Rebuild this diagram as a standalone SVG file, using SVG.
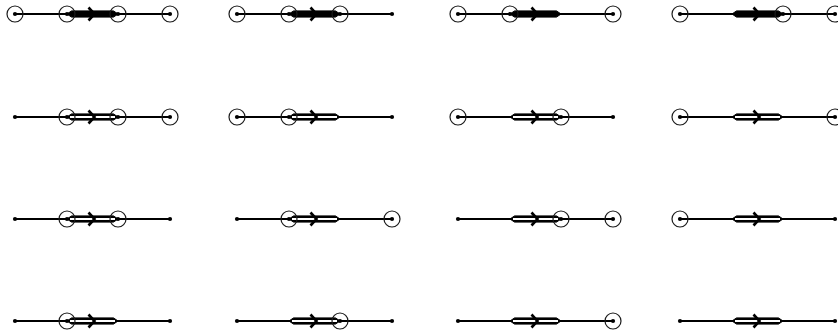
<svg xmlns="http://www.w3.org/2000/svg" xmlns:xlink="http://www.w3.org/1999/xlink" width="838" height="334" viewBox="0 0 838 334">
<style>
.ln{stroke:#000;stroke-width:2.2;fill:none}
.bar{fill:#000;stroke:#000;stroke-width:1}
.inner{stroke:#fff;stroke-width:2.2;fill:none}
.arr{stroke:#000;stroke-width:2.6;fill:none;stroke-linejoin:miter}
.ring{stroke:#1a1a1a;stroke-width:1.2;fill:none}
.dot{fill:#000}
</style>
<defs>
<g id="base">
<line class="ln" x1="15" y1="0" x2="170" y2="0"/>
<path class="bar" d="M67,0 L71.5,-3.1 L113.5,-3.1 L118,0 L113.5,3.1 L71.5,3.1 Z"/>
</g>
<line id="hollow" class="inner" x1="70" y1="0" x2="115" y2="0"/>
<polyline id="arrow" class="arr" points="88.5,-6.5 94.5,0 88.5,6.5"/>
<circle id="ring" class="ring" r="8"/>
<circle id="dot" class="dot" r="2.1"/>
</defs>
<g id="connectors"/>
<!-- Row 1 -->
<g id="d11" transform="translate(0,14)">
<use href="#base"/><use href="#arrow"/>
<use href="#dot" x="15"/><use href="#dot" x="67"/><use href="#dot" x="118"/><use href="#dot" x="170"/>
<use href="#ring" x="15"/><use href="#ring" x="67"/><use href="#ring" x="118"/><use href="#ring" x="170"/>
</g>
<g id="d12" transform="translate(222,14)">
<use href="#base"/><use href="#arrow"/>
<use href="#dot" x="15"/><use href="#dot" x="67"/><use href="#dot" x="118"/><use href="#dot" x="170"/>
<use href="#ring" x="15"/><use href="#ring" x="67"/><use href="#ring" x="118"/>
</g>
<g id="d13" transform="translate(443,14)">
<use href="#base"/><use href="#arrow"/>
<use href="#dot" x="15"/><use href="#dot" x="67"/><use href="#dot" x="170"/>
<use href="#ring" x="15"/><use href="#ring" x="67"/><use href="#ring" x="170"/>
</g>
<g id="d14" transform="translate(665,14)">
<use href="#base"/><use href="#arrow"/>
<use href="#dot" x="15"/><use href="#dot" x="118"/><use href="#dot" x="170"/>
<use href="#ring" x="15"/><use href="#ring" x="118"/><use href="#ring" x="170"/>
</g>
<!-- Row 2 -->
<g id="d21" transform="translate(0,117)">
<use href="#base"/><use href="#hollow"/><use href="#arrow"/>
<use href="#dot" x="15"/><use href="#dot" x="67"/><use href="#dot" x="118"/><use href="#dot" x="170"/>
<use href="#ring" x="67"/><use href="#ring" x="118"/><use href="#ring" x="170"/>
</g>
<g id="d22" transform="translate(222,117)">
<use href="#base"/><use href="#hollow"/><use href="#arrow"/>
<use href="#dot" x="15"/><use href="#dot" x="67"/><use href="#dot" x="170"/>
<use href="#ring" x="15"/><use href="#ring" x="67"/>
</g>
<g id="d23" transform="translate(443,117)">
<use href="#base"/><use href="#hollow"/><use href="#arrow"/>
<use href="#dot" x="15"/><use href="#dot" x="118"/><use href="#dot" x="170"/>
<use href="#ring" x="15"/><use href="#ring" x="118"/>
</g>
<g id="d24" transform="translate(665,117)">
<use href="#base"/><use href="#hollow"/><use href="#arrow"/>
<use href="#dot" x="15"/><use href="#dot" x="170"/>
<use href="#ring" x="15"/><use href="#ring" x="170"/>
</g>
<!-- Row 3 -->
<g id="d31" transform="translate(0,219)">
<use href="#base"/><use href="#hollow"/><use href="#arrow"/>
<use href="#dot" x="15"/><use href="#dot" x="67"/><use href="#dot" x="118"/><use href="#dot" x="170"/>
<use href="#ring" x="67"/><use href="#ring" x="118"/>
</g>
<g id="d32" transform="translate(222,219)">
<use href="#base"/><use href="#hollow"/><use href="#arrow"/>
<use href="#dot" x="15"/><use href="#dot" x="67"/><use href="#dot" x="170"/>
<use href="#ring" x="67"/><use href="#ring" x="170"/>
</g>
<g id="d33" transform="translate(443,219)">
<use href="#base"/><use href="#hollow"/><use href="#arrow"/>
<use href="#dot" x="15"/><use href="#dot" x="118"/><use href="#dot" x="170"/>
<use href="#ring" x="118"/><use href="#ring" x="170"/>
</g>
<g id="d34" transform="translate(665,219)">
<use href="#base"/><use href="#hollow"/><use href="#arrow"/>
<use href="#dot" x="15"/><use href="#dot" x="170"/>
<use href="#ring" x="15"/>
</g>
<!-- Row 4 -->
<g id="d41" transform="translate(0,321)">
<use href="#base"/><use href="#hollow"/><use href="#arrow"/>
<use href="#dot" x="15"/><use href="#dot" x="67"/><use href="#dot" x="170"/>
<use href="#ring" x="67"/>
</g>
<g id="d42" transform="translate(222,321)">
<use href="#base"/><use href="#hollow"/><use href="#arrow"/>
<use href="#dot" x="15"/><use href="#dot" x="118"/><use href="#dot" x="170"/>
<use href="#ring" x="118"/>
</g>
<g id="d43" transform="translate(443,321)">
<use href="#base"/><use href="#hollow"/><use href="#arrow"/>
<use href="#dot" x="15"/><use href="#dot" x="170"/>
<use href="#ring" x="170"/>
</g>
<g id="d44" transform="translate(665,321)">
<use href="#base"/><use href="#hollow"/><use href="#arrow"/>
<use href="#dot" x="15"/><use href="#dot" x="170"/>
</g>
</svg>
